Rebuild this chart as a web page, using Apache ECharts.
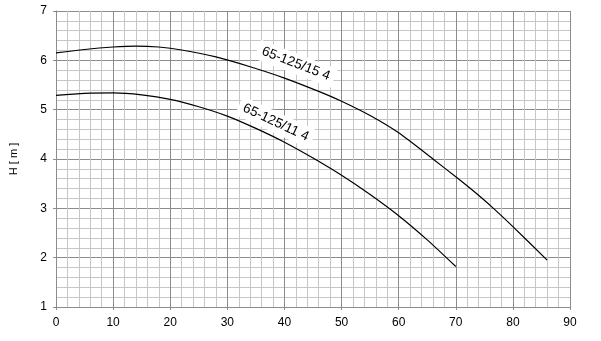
<!DOCTYPE html>
<html>
<head>
<meta charset="utf-8">
<script src="https://cdn.jsdelivr.net/npm/echarts@6/dist/echarts.min.js"></script>
<style>html,body{margin:0;padding:0;background:#fff}#c{width:601px;height:341px}</style>
</head>
<body>
<div id="c"></div>
<script>
// Pump curve 65-125/15 4 (upper)
var upperQ = [0, 5, 10, 14, 18, 22, 28, 34, 40, 46, 50, 55, 60, 66, 70, 73, 76.4, 80, 86];
var upperH = [6.15, 6.22, 6.27, 6.29, 6.27, 6.21, 6.07, 5.87, 5.64, 5.37, 5.17, 4.88, 4.53, 4.00, 3.64, 3.36, 3.02, 2.63, 1.95];
// Pump curve 65-125/11 4 (lower)
var lowerQ = [0, 5, 10, 15, 20, 25, 30, 35, 40, 45, 50, 55, 60, 65, 70];
var lowerH = [5.29, 5.33, 5.34, 5.30, 5.21, 5.06, 4.87, 4.62, 4.34, 4.02, 3.67, 3.28, 2.85, 2.36, 1.82];
var seriesNames = ['65-125/15 4', '65-125/11 4'];
var labelPos = [[42.0, 5.93], [38.5, 4.74]];
var labelRot = [-21, -25];
var xTicks = [0, 10, 20, 30, 40, 50, 60, 70, 80, 90];
var yTicks = [1, 2, 3, 4, 5, 6, 7];
var yName = 'H [ m ]';

function pairs(xs, ys) { return xs.map(function (x, i) { return [x, ys[i]]; }); }

var font = 'Liberation Sans';
function mkSeries(idx, xs, ys) {
  return {
    type: 'line', name: seriesNames[idx], data: pairs(xs, ys), smooth: 0.25,
    showSymbol: false, symbol: 'none',
    lineStyle: { color: '#000', width: 1.2 },
    markPoint: {
      symbol: 'circle', symbolSize: 0, silent: true,
      data: [{ coord: labelPos[idx], value: seriesNames[idx] }],
      label: {
        show: true, position: 'inside', formatter: seriesNames[idx], rotate: labelRot[idx],
        color: '#000', fontFamily: font, fontSize: 13.5,
        backgroundColor: '#fff', padding: [3, 5]
      }
    }
  };
}

var chart = echarts.init(document.getElementById('c'), null, { renderer: 'canvas' });
chart.setOption({
  animation: false,
  backgroundColor: '#fff',
  grid: { left: 52, right: 31, top: 11, bottom: 34, containLabel: false },
  xAxis: {
    type: 'value', min: xTicks[0], max: xTicks[xTicks.length - 1], interval: 10,
    axisLine: { show: true, lineStyle: { color: '#8c8c8c' } },
    axisTick: { show: true, length: 3, lineStyle: { color: '#8c8c8c' } },
    axisLabel: { color: '#000', fontFamily: font, fontSize: 12, margin: 10 },
    splitLine: { show: true, lineStyle: { color: '#8c8c8c', width: 1 } },
    minorTick: { show: false, splitNumber: 5 },
    minorSplitLine: { show: true, lineStyle: { color: '#c6c6c6', width: 1 } }
  },
  yAxis: {
    type: 'value', min: yTicks[0], max: yTicks[yTicks.length - 1], interval: 1,
    name: yName, nameLocation: 'middle', nameGap: 37, nameRotate: 90,
    nameTextStyle: { color: '#000', fontFamily: font, fontSize: 11 },
    axisLine: { show: true, lineStyle: { color: '#8c8c8c' } },
    axisTick: { show: true, length: 3, lineStyle: { color: '#8c8c8c' } },
    axisLabel: { color: '#000', fontFamily: font, fontSize: 12, margin: 9 },
    splitLine: { show: true, lineStyle: { color: '#8c8c8c', width: 1 } },
    minorTick: { show: false, splitNumber: 5 },
    minorSplitLine: { show: true, lineStyle: { color: '#c6c6c6', width: 1 } }
  },
  series: [mkSeries(0, upperQ, upperH), mkSeries(1, lowerQ, lowerH)]
});
</script>
</body>
</html>
